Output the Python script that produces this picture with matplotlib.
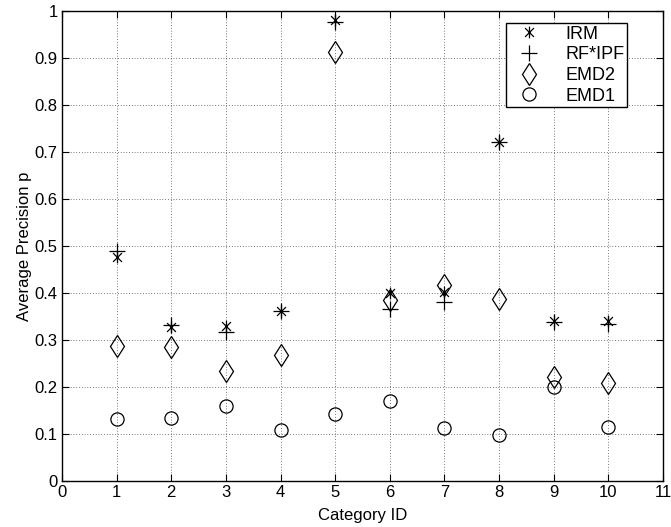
import matplotlib
matplotlib.use('Agg')
import matplotlib.pyplot as plt
from matplotlib.path import Path
import numpy as np

plt.rcParams['font.family'] = ['Liberation Sans', 'DejaVu Sans']

# data
category_id = [1, 2, 3, 4, 5, 6, 7, 8, 9, 10]
irm = [0.476, 0.327, 0.329, 0.362, 0.981, 0.400, 0.402, 0.721, 0.341, 0.340]
rf_ipf = [0.488, 0.331, 0.317, 0.361, 0.977, 0.365, 0.381, 0.722, 0.338, 0.334]
emd2 = [0.287, 0.285, 0.234, 0.267, 0.913, 0.385, 0.417, 0.386, 0.220, 0.207]
emd1 = [0.131, 0.133, 0.160, 0.108, 0.143, 0.170, 0.113, 0.097, 0.199, 0.114]

# matlab style asterisk: vertical line plus an X
d = 0.75
asterisk = Path([(0, -1), (0, 1), (-d, -d), (d, d), (-d, d), (d, -d)],
                [Path.MOVETO, Path.LINETO, Path.MOVETO, Path.LINETO,
                 Path.MOVETO, Path.LINETO])

fig = plt.figure(figsize=(6.71, 5.27), dpi=100)
ax = fig.add_axes([0.0924, 0.0879, 0.8956, 0.8912])

ax.plot(category_id, irm, linestyle='none', marker=asterisk, markersize=8.5,
        markeredgewidth=0.9, color='black', label='IRM')
ax.plot(category_id, rf_ipf, linestyle='none', marker='+', markersize=11,
        markeredgewidth=0.9, color='black', label='RF*IPF')
ax.plot(category_id, emd2, linestyle='none', marker='d', markersize=11.5,
        markeredgewidth=0.9, color='black', markerfacecolor='none', label='EMD2')
ax.plot(category_id, emd1, linestyle='none', marker='o', markersize=9.5,
        markeredgewidth=0.9, color='black', markerfacecolor='none', label='EMD1')

ax.set_xlim(0, 11)
ax.set_ylim(0, 1)
ax.set_xticks(range(0, 12))
ax.set_yticks(np.arange(0, 1.01, 0.1))
ax.set_yticklabels(['0', '0.1', '0.2', '0.3', '0.4', '0.5', '0.6', '0.7', '0.8', '0.9', '1'])
ax.tick_params(direction='in', top=True, right=True, length=5, width=0.8,
               labelsize=12, pad=3)
ax.grid(True, linestyle=(0, (1, 3)), color='black', linewidth=0.5)
for s in ax.spines.values():
    s.set_linewidth(1.0)

ax.set_xlabel('Category ID', fontsize=12, labelpad=6)
ax.set_ylabel('Average Precision p', fontsize=12, labelpad=2)

leg = ax.legend(loc='upper right', bbox_to_anchor=(0.940, 0.9745), fontsize=13,
                fancybox=False, edgecolor='black', framealpha=1,
                handlelength=2.2, handletextpad=0.9, borderpad=0.15,
                labelspacing=0.2, borderaxespad=0)
leg.get_frame().set_linewidth(1.0)

fig.savefig('out.png', dpi=100)
